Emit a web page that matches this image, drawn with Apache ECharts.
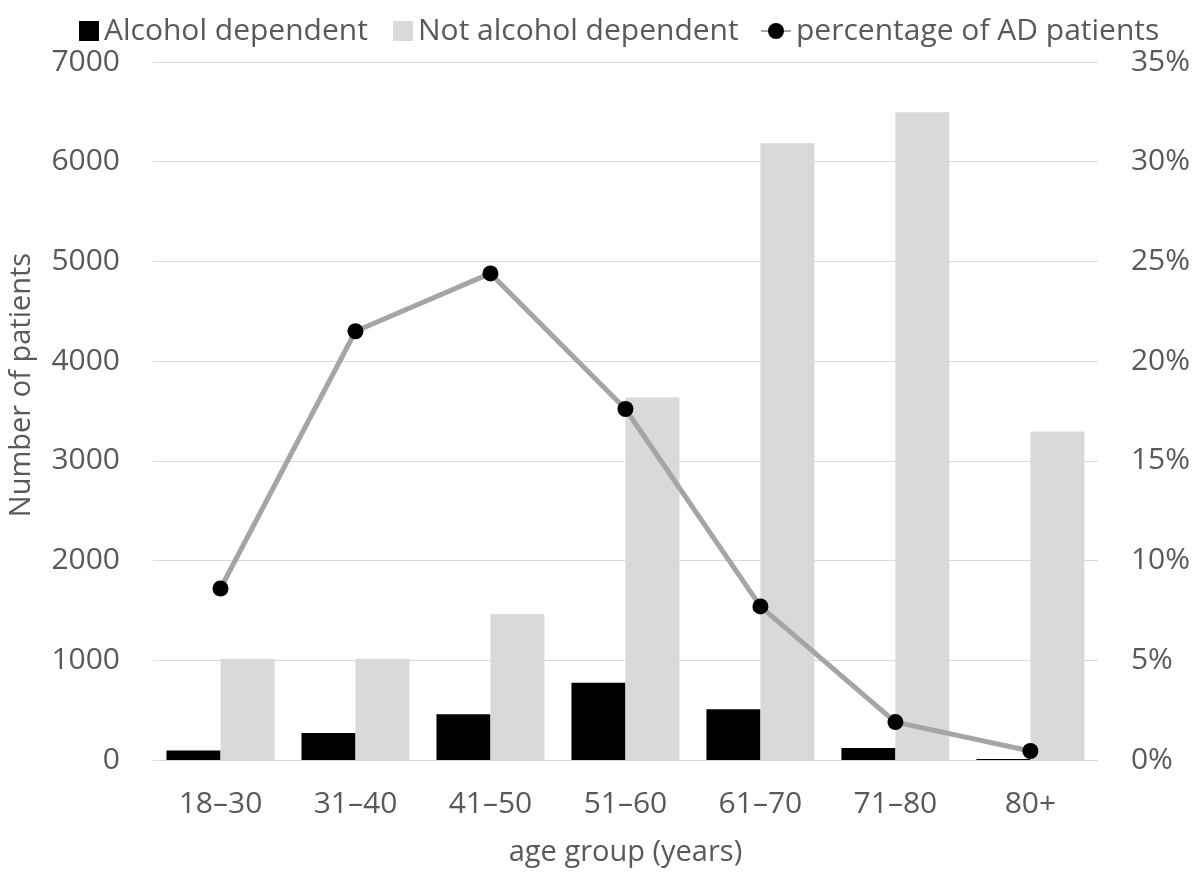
<!DOCTYPE html>
<html>
<head>
<meta charset="utf-8">
<script src="https://cdn.jsdelivr.net/npm/echarts@6/dist/echarts.min.js"></script>
<style>
html,body{margin:0;padding:0;background:#fff;}
#chart{width:1193px;height:875px;}
</style>
</head>
<body>
<div id="chart"></div>
<script>
const categories = ['18\u201330', '31\u201340', '41\u201350', '51\u201360', '61\u201370', '71\u201380', '80+'];
const alcoholDependent = [95, 270, 460, 775, 510, 120, 10];
const notAlcoholDependent = [1015, 1015, 1465, 3635, 6185, 6495, 3295];
const percentageAD = [8.6, 21.5, 24.4, 17.6, 7.7, 1.9, 0.45];
const leftTicks = {min: 0, max: 7000, interval: 1000};
const rightTicks = {min: 0, max: 35, interval: 5};

const FONT = '"Open Sans", "Noto Sans", sans-serif';
const GREY = '#595959';

const chart = echarts.init(document.getElementById('chart'), null, {renderer: 'canvas'});
const legendText = {color: GREY, fontSize: 30, fontFamily: FONT};
chart.setOption({
  animation: false,
  backgroundColor: '#ffffff',
  textStyle: {fontFamily: FONT},
  grid: {left: 153, right: 95, top: 62, bottom: 115, containLabel: false},
  legend: [
    {data: ['Alcohol dependent'], left: 74, top: 11, itemWidth: 20, itemHeight: 20, itemGap: 0, icon: 'rect', textStyle: legendText},
    {data: ['Not alcohol dependent'], left: 388, top: 11, itemWidth: 20, itemHeight: 20, itemGap: 0, icon: 'rect', textStyle: legendText},
    {data: ['percentage of AD patients'], left: 755, top: 11, itemWidth: 30, itemHeight: 20, itemGap: 0, textStyle: legendText}
  ],
  graphic: [
    {
      type: 'text',
      x: 22, y: 385,
      rotation: Math.PI / 2,
      style: {text: 'Number of patients', fill: GREY, fontSize: 29, fontFamily: FONT, align: 'center', verticalAlign: 'middle'}
    }
  ],
  xAxis: {
    type: 'category',
    data: categories,
    name: 'age group (years)',
    nameLocation: 'middle',
    nameGap: 78,
    nameTextStyle: {color: GREY, fontSize: 29, fontFamily: FONT},
    axisLine: {show: true, lineStyle: {color: '#d9d9d9', width: 1}},
    axisTick: {show: false},
    axisLabel: {color: GREY, fontSize: 30, fontFamily: FONT, margin: 29}
  },
  yAxis: [
    {
      type: 'value',
      min: leftTicks.min, max: leftTicks.max, interval: leftTicks.interval,
      axisLine: {show: false},
      axisTick: {show: false},
      axisLabel: {color: GREY, fontSize: 30, fontFamily: FONT, margin: 33, formatter: function (v) { return String(v); }},
      splitLine: {show: true, lineStyle: {color: '#d9d9d9', width: 1}}
    },
    {
      type: 'value',
      position: 'right',
      min: rightTicks.min, max: rightTicks.max, interval: rightTicks.interval,
      axisLine: {show: false},
      axisTick: {show: false},
      axisLabel: {color: GREY, fontSize: 30, fontFamily: FONT, margin: 33, formatter: '{value}%'},
      splitLine: {show: false}
    }
  ],
  series: [
    {
      name: 'Alcohol dependent',
      type: 'bar',
      data: alcoholDependent,
      itemStyle: {color: '#000000'},
      barGap: '0%',
      barCategoryGap: '20%'
    },
    {
      name: 'Not alcohol dependent',
      type: 'bar',
      data: notAlcoholDependent,
      itemStyle: {color: '#d9d9d9'},
      barGap: '0%',
      barCategoryGap: '20%'
    },
    {
      name: 'percentage of AD patients',
      type: 'line',
      yAxisIndex: 1,
      data: percentageAD,
      z: 5,
      symbol: 'circle',
      symbolSize: 16,
      itemStyle: {color: '#000000'},
      lineStyle: {color: '#a5a5a5', width: 5}
    }
  ]
});
</script>
</body>
</html>
